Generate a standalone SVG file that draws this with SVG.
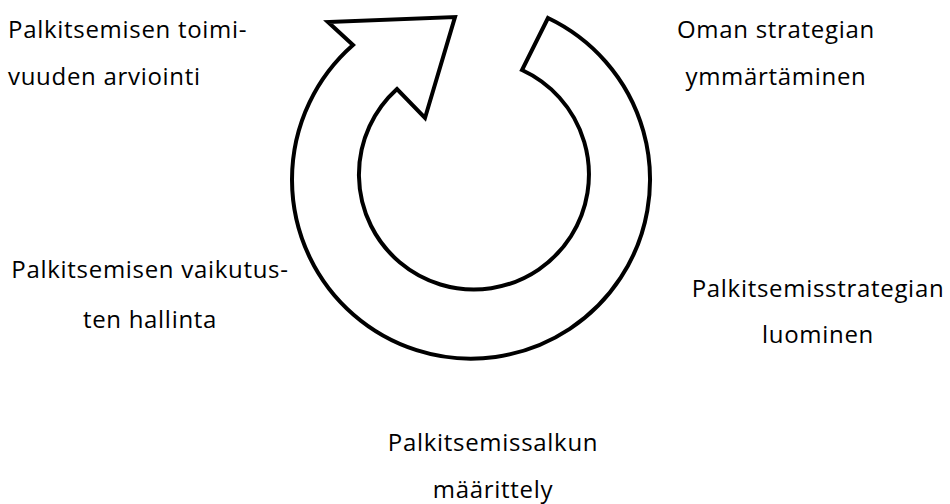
<svg xmlns="http://www.w3.org/2000/svg" width="950" height="504" viewBox="0 0 950 504">
<style>
.t{font-family:"Open Sans","Noto Sans","Liberation Sans",sans-serif;font-size:24px;letter-spacing:0.7px;fill:#000}
.c{text-anchor:middle}
.arrow{fill:#fff;stroke:#000;stroke-width:4;stroke-linejoin:miter}
</style>
<rect width="950" height="504" fill="#fff"/>
<g id="connectors">
<path class="arrow" d="M353,45 L328,22 L455,17 L425,118 L397,89 A115 115 0 1 0 522,70 L548,18 A179 179 0 1 1 353,45 Z"/>
</g>
<g id="n1"><text class="t" x="8" y="38">Palkitsemisen toimi-</text><text class="t" x="8" y="85">vuuden arviointi</text></g>
<g id="n2"><text class="t c" x="776" y="38">Oman strategian</text><text class="t c" x="776" y="85">ymmärtäminen</text></g>
<g id="n3"><text class="t c" x="150" y="278">Palkitsemisen vaikutus-</text><text class="t c" x="150" y="328">ten hallinta</text></g>
<g id="n4"><text class="t c" x="818" y="297">Palkitsemisstrategian</text><text class="t c" x="818" y="343">luominen</text></g>
<g id="n5"><text class="t c" x="493" y="451">Palkitsemissalkun</text><text class="t c" x="493" y="498">määrittely</text></g>
</svg>
